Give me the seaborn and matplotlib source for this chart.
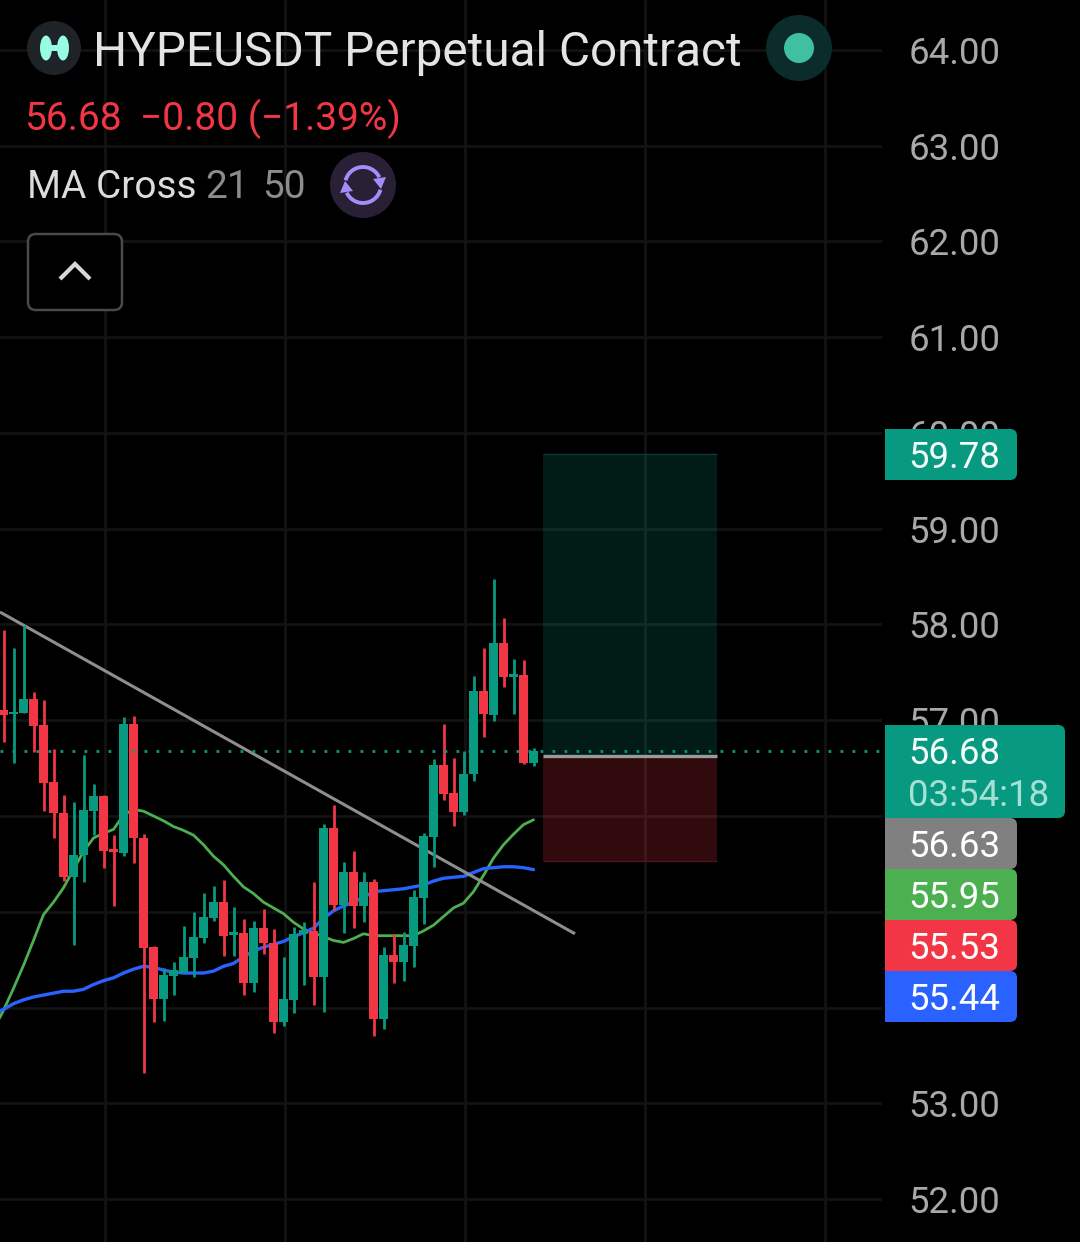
import numpy as np
import pandas as pd
import matplotlib
matplotlib.use("Agg")
import matplotlib.pyplot as plt
from matplotlib.patches import Rectangle, FancyBboxPatch, Circle, Ellipse, Polygon
from matplotlib.transforms import Affine2D
import seaborn as sns

# ---- data -------------------------------------------------------------
opens = [57.11,57.07,57.08,57.22,56.95,56.36,56.03,55.36,55.59,56.05,56.21,55.66,55.61,56.96,55.77,54.63,54.09,54.33,54.36,54.52,54.73,54.93,55.10,54.76,54.78,54.26,54.83,54.67,53.85,54.08,54.77,54.80,54.32,55.87,55.07,55.41,55.06,55.31,53.88,54.55,54.48,54.64,55.14,55.78,56.53,56.24,56.04,56.44,57.31,57.05,57.81,57.45,57.47,56.55]
closes = [57.05,57.09,57.22,56.94,56.34,56.03,55.36,55.59,56.06,56.21,55.63,55.62,56.96,55.77,54.62,54.09,54.34,54.39,54.53,54.74,54.95,55.10,54.75,54.79,54.26,54.83,54.67,53.85,54.09,54.77,54.81,54.32,55.87,55.07,55.41,55.06,55.31,53.88,54.55,54.48,54.65,55.15,55.79,56.53,56.23,56.04,56.44,57.31,57.07,57.81,57.45,57.48,56.55,56.68]
highs = [57.94,57.75,57.99,57.30,57.21,56.70,56.22,56.15,56.64,56.33,56.22,55.80,57.03,57.04,55.81,54.64,54.41,54.48,54.85,55.00,55.20,55.27,55.33,55.05,54.92,54.90,55.03,54.82,54.53,54.84,54.89,55.31,55.92,56.11,55.52,55.63,55.41,55.34,54.63,54.77,54.79,55.23,55.82,56.60,56.96,56.61,56.68,57.46,57.75,58.48,58.07,57.64,57.63,56.71]
lows = [56.77,56.55,57.08,56.67,56.05,55.77,55.32,54.65,55.31,55.80,55.46,55.06,55.58,55.51,53.32,53.85,53.86,54.13,54.36,54.32,54.67,54.90,54.54,54.54,54.13,54.16,54.56,53.73,53.81,53.94,54.24,54.03,53.95,55.02,54.78,54.83,54.89,53.70,53.78,54.26,54.28,54.42,54.87,55.47,56.17,55.90,56.01,56.37,56.83,56.99,57.35,57.07,56.54,56.52]
ma21 = [53.77,53.97,54.20,54.44,54.70,54.97,55.10,55.25,55.44,55.63,55.77,55.82,55.86,56.01,56.07,56.05,56.00,55.95,55.89,55.85,55.80,55.70,55.58,55.49,55.37,55.26,55.19,55.10,55.04,54.98,54.89,54.82,54.78,54.74,54.70,54.68,54.72,54.77,54.75,54.75,54.75,54.75,54.75,54.80,54.86,54.95,55.04,55.09,55.21,55.38,55.56,55.70,55.81,55.91,55.96]
ma50 = [53.93,53.98,54.04,54.08,54.11,54.13,54.15,54.17,54.17,54.19,54.24,54.28,54.31,54.36,54.40,54.43,54.42,54.39,54.37,54.36,54.36,54.36,54.38,54.43,54.46,54.53,54.59,54.63,54.66,54.69,54.74,54.78,54.83,54.93,55.01,55.06,55.10,55.15,55.21,55.22,55.23,55.24,55.26,55.28,55.32,55.35,55.36,55.37,55.41,55.45,55.46,55.47,55.47,55.46,55.44]
trend_idx = [-0.35, 57.15]
trend_price = [58.13, 54.77]
last_price = 56.68
target_price = 59.78
entry_price = 56.63
stop_price = 55.53
position_idx = [53.95, 71.35]
price_ticks = list(range(52, 65))
hidden_tick_labels = [54, 55, 56]   # fully covered by the axis tags in the reference
time_ticks = [10.1, 28.15, 46.15, 64.15, 82.15]

title_text = "HYPEUSDT Perpetual Contract"
quote_text = ["56.68", "\u22120.80 (\u22121.39%)"]
ma_name = "MA Cross"
ma_periods = ["21", "50"]
countdown = "03:54:18"

# ---- colours ----------------------------------------------------------
UP = "#089981"; DOWN = "#f23645"; MA_G = "#4caf50"; MA_B = "#2962ff"; GREY = "#808080"
GRID = "#121212"; TICK = "#a8a8a8"

W, H = 1080, 1242
sns.set_theme(style="dark", rc={
    "axes.facecolor": "black", "figure.facecolor": "black", "savefig.facecolor": "black",
    "axes.grid": True, "grid.color": GRID, "grid.linewidth": 2.0,
    "axes.axisbelow": True})
plt.rcParams["font.family"] = ["Roboto", "DejaVu Sans"]

fig = plt.figure(figsize=(W / 100, H / 100), dpi=100)
ax = fig.add_axes([0, 0, 882 / W, 1])
px = Affine2D().scale(1, -1).translate(0, H)

idx = np.arange(len(opens))
df = pd.DataFrame({"i": idx, "o": opens, "c": closes, "h": highs, "l": lows})
df["col"] = np.where(df.c >= df.o, UP, DOWN)

# position tool
ax.add_patch(Rectangle((position_idx[0], entry_price), position_idx[1] - position_idx[0],
                       target_price - entry_price, fc=UP, alpha=0.18, lw=0, zorder=1))
ax.add_patch(Rectangle((position_idx[0], stop_price), position_idx[1] - position_idx[0],
                       entry_price - stop_price, fc=DOWN, alpha=0.2, lw=0, zorder=1))
ax.plot(position_idx, [stop_price] * 2, color="#4a1620", lw=1.0, zorder=1.2, solid_capstyle="butt")
ax.plot(position_idx, [target_price] * 2, color="#0a3a33", lw=1.0, zorder=1.2, solid_capstyle="butt")
ax.plot(position_idx, [entry_price] * 2, color="#9a9a9a", lw=2.4, zorder=2, solid_capstyle="butt")

# moving averages + trend line
ma_idx = np.arange(-1, len(opens))
sns.lineplot(x=ma_idx, y=ma21, ax=ax, color=MA_G, lw=2.0, zorder=2.5, errorbar=None)
sns.lineplot(x=ma_idx, y=ma50, ax=ax, color=MA_B, lw=2.4, zorder=2.6, errorbar=None)
ax.plot(trend_idx, trend_price, color="#8e8e8e", lw=2.2, zorder=2.7, solid_capstyle="butt")

# candles
ax.vlines(df.i, df.l, df.h, colors=df.col, lw=2.0, zorder=3)
ax.bar(df.i, (df.c - df.o).abs(), bottom=df[["o", "c"]].min(axis=1), width=0.92,
       color=df.col, lw=0, zorder=3.1)

# last price line
ax.axhline(last_price, color=UP, lw=2.0, ls=(0, (1, 3.32)), zorder=3.2)

ax.set_xlim(-0.35, 87.85)
ax.set_ylim(51.551, 64.522)
ax.set_xticks(time_ticks)
ax.set_xticklabels([])
ax.set_yticks(price_ticks)
ax.set_yticklabels(["" if v in hidden_tick_labels else f"{v:.2f}" for v in price_ticks])
ax.yaxis.tick_right()
ax.tick_params(axis="y", length=0, pad=19.2, labelsize=26.4, labelcolor=TICK)
ax.tick_params(axis="x", length=0)
ax.set_xlabel(""); ax.set_ylabel("")
for s in ax.spines.values():
    s.set_visible(False)


def T(x, y, s, size, color, **kw):
    ax.text(x, y, s, transform=px, fontsize=size, color=color, va="baseline", ha="left",
            clip_on=False, zorder=12, **kw)


def add(p):
    p.set_transform(px)
    p.set_clip_on(False)
    ax.add_patch(p)


def tag(y0, y1, x1, color):
    add(FancyBboxPatch((885, y0), x1 - 885, y1 - y0, boxstyle="round,pad=0,rounding_size=7",
                       fc=color, ec="none", zorder=10))
    add(Rectangle((885, y0), 20, y1 - y0, fc=color, ec="none", zorder=10))


# axis tags
TS = 26.4
tag(429, 480, 1017, UP); T(908, 468, f"{target_price:.2f}", TS, "#f2fbf9")
tag(725, 818, 1065, UP); T(908, 764, f"{last_price:.2f}", TS, "#f2fbf9")
T(908, 806, countdown, TS, "#a5e0d5")
tag(818, 869, 1017, GREY); T(908, 857, f"{entry_price:.2f}", TS, "#ffffff")
tag(869, 920, 1017, MA_G); T(908, 908, "55.95", TS, "#ffffff")
tag(920, 971, 1017, DOWN); T(908, 959, f"{stop_price:.2f}", TS, "#ffffff")
tag(971, 1022, 1017, MA_B); T(908, 1010, "55.44", TS, "#ffffff")

# header
add(Circle((54, 48), 27, fc="#1d2326", ec="none", zorder=10))
LOGO = "#97fce4"
add(Ellipse((46, 48), 12, 25, fc=LOGO, ec="none", zorder=11))
add(Ellipse((63, 48), 12, 25, fc=LOGO, ec="none", zorder=11))
add(Rectangle((46, 45), 17, 6, fc=LOGO, ec="none", zorder=11))
T(93, 66, title_text, 34.35, "#e4e4e4")
add(Circle((799, 48), 33, fc="#0c2b2b", ec="none", zorder=10))
add(Circle((799, 48), 15, fc="#41bfa3", ec="none", zorder=11))

T(24, 130.5, quote_text[0], 28, DOWN)
T(140, 130.5, quote_text[1], 28, DOWN)

T(27, 198.5, ma_name, 28, "#dcdcdc")
T(205, 198.5, ma_periods[0], 28, "#8c8c8c")
T(262, 198.5, ma_periods[1], 28, "#8c8c8c")

# refresh icon
add(Circle((363, 185), 33, fc="#2a2035", ec="none", zorder=10))
PURPLE = "#a78bfa"
for a0, a1 in [(195, 335), (15, 155)]:
    t = np.radians(np.linspace(a0, a1, 40))
    ax.plot(363 + 18 * np.cos(t), 185 + 18 * np.sin(t), color=PURPLE, lw=2.8, transform=px,
            clip_on=False, zorder=11, solid_capstyle="butt")
add(Polygon([(373, 179), (386, 177), (381, 189)], closed=True, fc=PURPLE, ec="none", zorder=11))
add(Polygon([(353, 191), (340, 193), (345, 181)], closed=True, fc=PURPLE, ec="none", zorder=11))

# collapse button
add(FancyBboxPatch((28, 234), 94, 76, boxstyle="round,pad=0,rounding_size=8",
                   fc="black", ec="#4a4a4a", lw=1.8, zorder=10))
ax.plot([60, 75, 90], [279, 264, 279], color="#d8d8d8", lw=3, transform=px, clip_on=False,
        zorder=11, solid_joinstyle="miter", solid_capstyle="butt")

fig.savefig("out.png", dpi=100, facecolor="black")
